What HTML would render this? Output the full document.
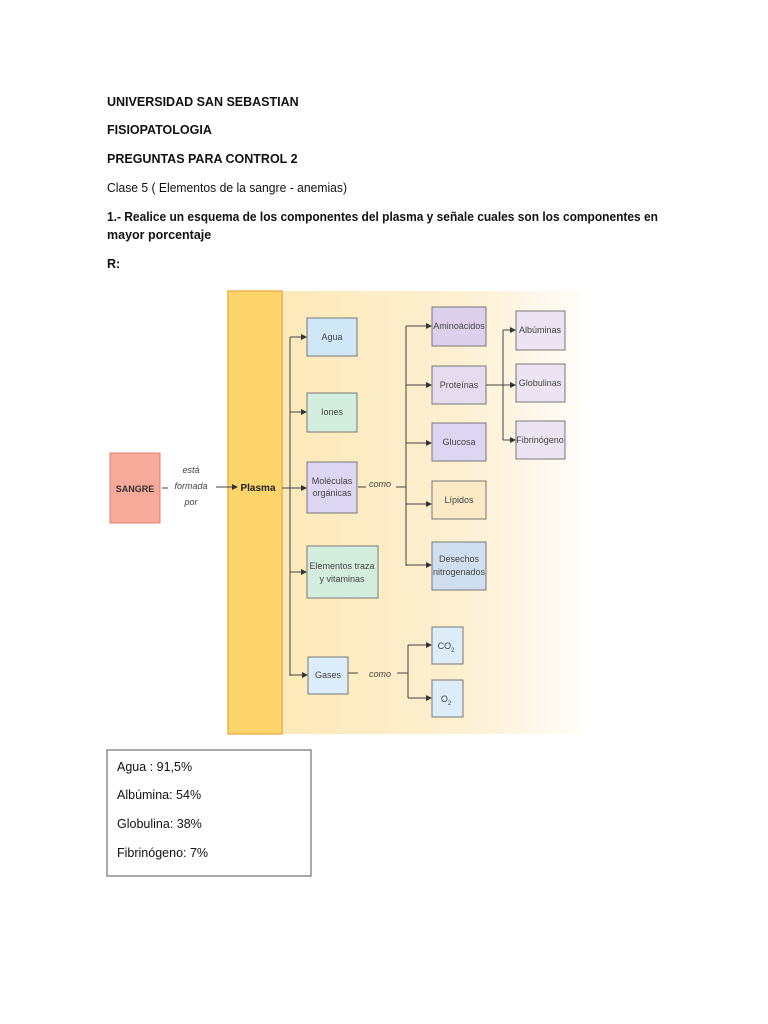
<!DOCTYPE html>
<html><head><meta charset="utf-8"><style>
html,body{margin:0;padding:0;background:#fff;}
svg{display:block;}
text{font-family:"Liberation Sans",sans-serif;}
.h{font-size:12.5px;font-weight:bold;fill:#111;}
.n{font-size:12.5px;fill:#111;}
.b{font-size:9px;fill:#444;text-anchor:middle;}
.bx{stroke:#777;stroke-width:1;}
.ln{stroke:#444;stroke-width:1;fill:none;}
</style></head><body>
<svg width="768" height="1024" viewBox="0 0 768 1024" xmlns="http://www.w3.org/2000/svg">
<defs>
<linearGradient id="bg" x1="0" x2="1" y1="0" y2="0">
<stop offset="0" stop-color="#fde9b8"/><stop offset="0.6" stop-color="#fdf0d2"/><stop offset="1" stop-color="#fffdf8"/>
</linearGradient>
<marker id="ar" markerWidth="6" markerHeight="6" refX="5" refY="3" orient="auto"><path d="M0,0 L6,3 L0,6 z" fill="#333"/></marker>
</defs>
<text class="h" x="107" y="106">UNIVERSIDAD SAN SEBASTIAN</text>
<text class="h" x="107" y="134">FISIOPATOLOGIA</text>
<text class="h" x="107" y="163">PREGUNTAS PARA CONTROL 2</text>
<text class="n" x="107" y="192" textLength="240" lengthAdjust="spacingAndGlyphs">Clase 5 ( Elementos de la sangre - anemias)</text>
<text class="h" x="107" y="221" textLength="551" lengthAdjust="spacingAndGlyphs">1.- Realice un esquema de los componentes del plasma  y señale cuales son los componentes en</text>
<text class="h" x="107" y="239">mayor porcentaje</text>
<text class="h" x="107" y="268">R:</text>

<rect x="282" y="291" width="300" height="443" fill="url(#bg)"/>
<rect x="228" y="291" width="54" height="443" fill="#fdd56a" stroke="#f0b050" stroke-width="1.5"/>
<text x="258" y="491" style="font-size:10px;font-weight:bold" text-anchor="middle" fill="#222">Plasma</text>

<rect x="110" y="453" width="50" height="70" fill="#f7a99a" stroke="#e08070"/>
<text x="135" y="492" style="font-size:9px;font-weight:bold" text-anchor="middle" fill="#333">SANGRE</text>
<line class="ln" x1="162" y1="488" x2="168" y2="488"/>
<text class="b" x="191" y="473" font-style="italic">está</text>
<text class="b" x="191" y="489" font-style="italic">formada</text>
<text class="b" x="191" y="505" font-style="italic">por</text>
<line class="ln" x1="216" y1="487" x2="237" y2="487" marker-end="url(#ar)"/>

<line class="ln" x1="282" y1="488" x2="290" y2="488"/>
<line class="ln" x1="290" y1="337" x2="290" y2="676"/>
<line class="ln" x1="290" y1="337" x2="306" y2="337" marker-end="url(#ar)"/>
<line class="ln" x1="290" y1="412" x2="306" y2="412" marker-end="url(#ar)"/>
<line class="ln" x1="290" y1="488" x2="306" y2="488" marker-end="url(#ar)"/>
<line class="ln" x1="290" y1="572" x2="306" y2="572" marker-end="url(#ar)"/>
<line class="ln" x1="290" y1="675" x2="307" y2="675" marker-end="url(#ar)"/>

<rect class="bx" x="307" y="318" width="50" height="38" fill="#cfe7f7"/><text class="b" x="332" y="340">Agua</text>
<rect class="bx" x="307" y="393" width="50" height="39" fill="#d4eedd"/><text class="b" x="332" y="415">Iones</text>
<rect class="bx" x="307" y="462" width="50" height="51" fill="#dcd6f2"/><text class="b" x="332" y="484">Moléculas</text><text class="b" x="332" y="496">orgánicas</text>
<rect class="bx" x="307" y="546" width="71" height="52" fill="#d4eedd"/><text class="b" x="342" y="569">Elementos traza</text><text class="b" x="342" y="582">y vitaminas</text>
<rect class="bx" x="308" y="657" width="40" height="37" fill="#dcedf9"/><text class="b" x="328" y="678">Gases</text>

<line class="ln" x1="358" y1="487" x2="366" y2="487"/>
<text class="b" x="380" y="487" font-style="italic">como</text>
<line class="ln" x1="396" y1="487" x2="406" y2="487"/>
<line class="ln" x1="406" y1="326" x2="406" y2="566"/>
<line class="ln" x1="406" y1="326" x2="431" y2="326" marker-end="url(#ar)"/>
<line class="ln" x1="406" y1="385" x2="431" y2="385" marker-end="url(#ar)"/>
<line class="ln" x1="406" y1="443" x2="431" y2="443" marker-end="url(#ar)"/>
<line class="ln" x1="406" y1="504" x2="431" y2="504" marker-end="url(#ar)"/>
<line class="ln" x1="406" y1="565" x2="431" y2="565" marker-end="url(#ar)"/>

<rect class="bx" x="432" y="307" width="54" height="39" fill="#dcd0ec"/><text class="b" x="459" y="329">Aminoácidos</text>
<rect class="bx" x="432" y="366" width="54" height="38" fill="#e6dcf0"/><text class="b" x="459" y="388">Proteínas</text>
<rect class="bx" x="432" y="423" width="54" height="38" fill="#dcd6f2"/><text class="b" x="459" y="445">Glucosa</text>
<rect class="bx" x="432" y="481" width="54" height="38" fill="#fbe9c6"/><text class="b" x="459" y="503">Lípidos</text>
<rect class="bx" x="432" y="542" width="54" height="48" fill="#cfdff0"/><text class="b" x="459" y="562">Desechos</text><text class="b" x="459" y="575">nitrogenados</text>

<line class="ln" x1="486" y1="385" x2="503" y2="385"/>
<line class="ln" x1="503" y1="330" x2="503" y2="440"/>
<line class="ln" x1="503" y1="330" x2="515" y2="330" marker-end="url(#ar)"/>
<line class="ln" x1="503" y1="385" x2="515" y2="385" marker-end="url(#ar)"/>
<line class="ln" x1="503" y1="440" x2="515" y2="440" marker-end="url(#ar)"/>
<rect class="bx" x="516" y="311" width="49" height="39" fill="#ece4f3"/><text class="b" x="540" y="333">Albúminas</text>
<rect class="bx" x="516" y="364" width="49" height="38" fill="#ece4f3"/><text class="b" x="540" y="386">Globulinas</text>
<rect class="bx" x="516" y="421" width="49" height="38" fill="#ece4f3"/><text class="b" x="540" y="443">Fibrinógeno</text>

<line class="ln" x1="348" y1="673" x2="358" y2="673" stroke-width="1.5"/>
<text class="b" x="380" y="677" font-style="italic">como</text>
<line class="ln" x1="397" y1="673" x2="408" y2="673"/>
<line class="ln" x1="408" y1="645" x2="408" y2="698"/>
<line class="ln" x1="408" y1="645" x2="431" y2="645" marker-end="url(#ar)"/>
<line class="ln" x1="408" y1="698" x2="431" y2="698" marker-end="url(#ar)"/>
<rect class="bx" x="432" y="627" width="31" height="37" fill="#dcedf9"/><text class="b" x="446" y="649">CO<tspan font-size="6" dy="3">2</tspan></text>
<rect class="bx" x="432" y="680" width="31" height="37" fill="#dcedf9"/><text class="b" x="446" y="702">O<tspan font-size="6" dy="3">2</tspan></text>

<rect x="107" y="750" width="204" height="126" fill="#fff" stroke="#555" stroke-width="1"/>
<text class="n" x="117" y="771">Agua : 91,5%</text>
<text class="n" x="117" y="799">Albúmina: 54%</text>
<text class="n" x="117" y="828">Globulina:  38%</text>
<text class="n" x="117" y="857">Fibrinógeno: 7%</text>
</svg>
</body></html>
